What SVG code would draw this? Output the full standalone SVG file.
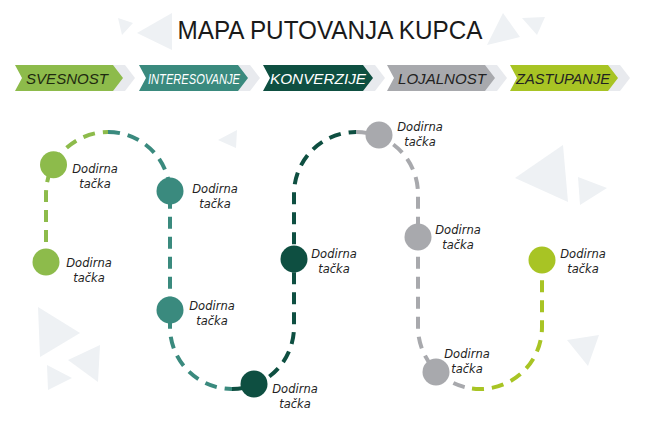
<svg xmlns="http://www.w3.org/2000/svg" width="650" height="424" viewBox="0 0 650 424">
<style>
.bg{fill:#eef1f4}
.sh{fill:#e8eaee}
.path{fill:none;stroke-width:4;stroke-dasharray:12 8}
.lbl{font-family:"DejaVu Sans","Liberation Sans",sans-serif;font-size:11.5px;font-style:italic;fill:#222;text-anchor:middle}
.ban{font-family:"Liberation Sans","DejaVu Sans",sans-serif;font-size:15px;font-style:italic;text-anchor:middle}
</style>
<rect width="650" height="424" fill="#ffffff"/>
<g id="background">
<polygon class="bg" points="118,18 133,23 122,35"/>
<polygon class="bg" points="137,33 172,13 172,50"/>
<polygon class="bg" points="487,45 503,13 520,37"/>
<polygon class="bg" points="522,18 545,17 537,35"/>
<polygon class="bg" points="218,140 237,130 236,148"/>
<polygon class="bg" points="515,178 563,145 568,202"/>
<polygon class="bg" points="578,177 607,188 580,205"/>
<polygon class="bg" points="567,340 599,335 588,366"/>
<polygon class="bg" points="38,307 80,333 40,357"/>
<polygon class="bg" points="68,360 100,345 98,382"/>
<polygon class="bg" points="47,365 72,378 48,390"/>
</g>
<g id="title">
<text x="330" y="39" font-family="Liberation Sans, DejaVu Sans, sans-serif" font-size="25" fill="#1a1a1a" text-anchor="middle" textLength="305" lengthAdjust="spacingAndGlyphs">MAPA PUTOVANJA KUPCA</text>
</g>
<g id="stage-svesnost">
<polygon class="sh" points="27,65 125,65 135,78 125,91 27,91 34,78"/>
<polygon fill="#8dbb4b" points="15,65 113,65 123,78 113,91 15,91 22,78"/>
<text class="ban" x="67" y="84" fill="#1f2a10" textLength="82" lengthAdjust="spacingAndGlyphs">SVESNOST</text>
</g>
<g id="stage-interesovanje">
<polygon class="sh" points="151,65 250,65 260,78 250,91 151,91 158,78"/>
<polygon fill="#3a8a7e" points="139,65 238,65 248,78 238,91 139,91 146,78"/>
<text class="ban" x="194" y="84" fill="#ffffff" font-style="normal" textLength="92" lengthAdjust="spacingAndGlyphs">INTERESOVANJE</text>
</g>
<g id="stage-konverzije">
<polygon class="sh" points="275,65 375,65 385,78 375,91 275,91 282,78"/>
<polygon fill="#0e4f41" points="263,65 363,65 373,78 363,91 263,91 270,78"/>
<text class="ban" x="318" y="84" fill="#ffffff" textLength="96" lengthAdjust="spacingAndGlyphs">KONVERZIJE</text>
</g>
<g id="stage-lojalnost">
<polygon class="sh" points="399,65 497,65 507,78 497,91 399,91 406,78"/>
<polygon fill="#a8a9ad" points="387,65 485,65 495,78 485,91 387,91 394,78"/>
<text class="ban" x="442" y="84" fill="#222222" textLength="88" lengthAdjust="spacingAndGlyphs">LOJALNOST</text>
</g>
<g id="stage-zastupanje">
<polygon class="sh" points="522,65 620,65 630,78 620,91 522,91 529,78"/>
<polygon fill="#a8c424" points="510,65 608,65 618,78 608,91 510,91 517,78"/>
<text class="ban" x="563" y="84" fill="#222222" font-style="normal" textLength="94" lengthAdjust="spacingAndGlyphs">ZASTUPANJE</text>
</g>
<g id="connectors">
<path class="path" stroke="#8dbb4b" d="M46,262 L46,194 A62,62 0 0 1 108,132"/>
<path class="path" stroke="#3a8a7e" d="M108,132 A62,62 0 0 1 170,194 L170,327 A62,62 0 0 0 232,389"/>
<path class="path" stroke="#0e4f41" d="M232,389 A62,62 0 0 0 294,327 L294,194 A62,62 0 0 1 356,132"/>
<path class="path" stroke="#a8a9ad" d="M356,132 A62,62 0 0 1 418,194 L418,327 A62,62 0 0 0 472,388.5"/>
<path class="path" stroke="#a8c424" d="M472,388.5 A62,62 0 0 0 542,327 L542,260"/>
</g>
<g id="tp1"><circle cx="53.5" cy="164.7" r="13.5" fill="#8dbb4b"/><text class="lbl" x="95" y="173">Dodirna</text><text class="lbl" x="95" y="188">tačka</text></g>
<g id="tp2"><circle cx="46" cy="262" r="13.5" fill="#8dbb4b"/><text class="lbl" x="89" y="267">Dodirna</text><text class="lbl" x="89" y="282">tačka</text></g>
<g id="tp3"><circle cx="170" cy="191" r="13.5" fill="#3a8a7e"/><text class="lbl" x="215" y="193">Dodirna</text><text class="lbl" x="215" y="208">tačka</text></g>
<g id="tp4"><circle cx="170" cy="310" r="13.5" fill="#3a8a7e"/><text class="lbl" x="212" y="310">Dodirna</text><text class="lbl" x="212" y="325">tačka</text></g>
<g id="tp5"><circle cx="254" cy="384" r="13.5" fill="#0e4f41"/><text class="lbl" x="295" y="393">Dodirna</text><text class="lbl" x="295" y="408">tačka</text></g>
<g id="tp6"><circle cx="294" cy="259" r="13.5" fill="#0e4f41"/><text class="lbl" x="334" y="258">Dodirna</text><text class="lbl" x="334" y="273">tačka</text></g>
<g id="tp7"><circle cx="379" cy="135" r="13.5" fill="#a8a9ad"/><text class="lbl" x="420" y="131">Dodirna</text><text class="lbl" x="420" y="146">tačka</text></g>
<g id="tp8"><circle cx="418" cy="237" r="13.5" fill="#a8a9ad"/><text class="lbl" x="458" y="234">Dodirna</text><text class="lbl" x="458" y="249">tačka</text></g>
<g id="tp9"><circle cx="436" cy="372" r="13.5" fill="#a8a9ad"/><text class="lbl" x="467" y="358">Dodirna</text><text class="lbl" x="467" y="373">tačka</text></g>
<g id="tp10"><circle cx="542" cy="260" r="13.5" fill="#a8c424"/><text class="lbl" x="583" y="258">Dodirna</text><text class="lbl" x="583" y="273">tačka</text></g>
</svg>
